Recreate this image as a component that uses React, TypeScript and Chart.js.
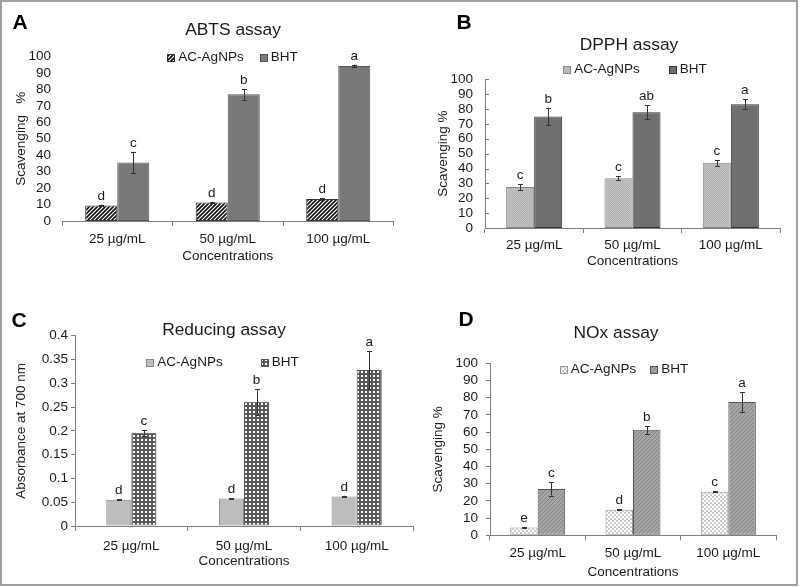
import React, { useEffect, useRef } from "react";
import { Chart, registerables } from "chart.js";
Chart.register(...registerables);

const FONT = '"Liberation Sans", Arial, Helvetica, sans-serif';

const categories = ["25 µg/mL", "50 µg/mL", "100 µg/mL"];
const seriesNames = ["AC-AgNPs", "BHT"];
const xAxisTitle = "Concentrations";

// A: ABTS assay
const abtsAC = [9.4, 11.2, 13.3];
const abtsACErr = [0.5, 0.5, 0.4];
const abtsBHT = [35.5, 77.0, 94.3];
const abtsBHTErr = [6.6, 3.2, 0.8];
const abtsACSig = ["d", "d", "d"];
const abtsBHTSig = ["c", "b", "a"];

// B: DPPH assay
const dpphAC = [27.5, 33.5, 43.8];
const dpphACErr = [2.0, 1.5, 2.0];
const dpphBHT = [75.0, 77.8, 83.3];
const dpphBHTErr = [5.8, 4.8, 3.3];
const dpphACSig = ["c", "c", "c"];
const dpphBHTSig = ["b", "ab", "a"];

// C: Reducing assay
const redAC = [0.055, 0.058, 0.062];
const redACErr = [0.001, 0.001, 0.0015];
const redBHT = [0.196, 0.261, 0.328];
const redBHTErr = [0.006, 0.027, 0.04];
const redACSig = ["d", "d", "d"];
const redBHTSig = ["c", "b", "a"];

// D: NOx assay
const noxAC = [4.6, 14.8, 25.3];
const noxACErr = [0.4, 0.3, 0.4];
const noxBHT = [26.9, 61.3, 77.5];
const noxBHTErr = [3.8, 2.3, 5.8];
const noxACSig = ["e", "d", "c"];
const noxBHTSig = ["c", "b", "a"];

const pctTickValues = [0, 10, 20, 30, 40, 50, 60, 70, 80, 90, 100];
const pctTickLabels = ["0", "10", "20", "30", "40", "50", "60", "70", "80", "90", "100"];
const absTickValues = [0, 0.05, 0.1, 0.15, 0.2, 0.25, 0.3, 0.35, 0.4];
const absTickLabels = ["0", "0.05", "0.1", "0.15", "0.2", "0.25", "0.3", "0.35", "0.4"];

const TICK_FONT = 13.5;
const LINE_H = TICK_FONT * 1.2;
const AXIS_COLOR = "#7f7f7f";
const TEXT_COLOR = "#1a1a1a";

function makePattern(size: number, draw: (g: CanvasRenderingContext2D) => void) {
  const c = document.createElement("canvas");
  c.width = size;
  c.height = size;
  const g = c.getContext("2d")!;
  draw(g);
  return g.createPattern(c, "repeat");
}

function buildPanels() {
  const hatch = makePattern(4, (g) => {
    g.fillStyle = "#fff";
    g.fillRect(0, 0, 4, 4);
    g.strokeStyle = "#111";
    g.lineWidth = 1.6;
    g.beginPath();
    g.moveTo(-1, 5); g.lineTo(5, -1);
    g.moveTo(-1, 1); g.lineTo(1, -1);
    g.moveTo(3, 5); g.lineTo(5, 3);
    g.stroke();
  });
  const stipple = (a: string, b: string) =>
    makePattern(2, (g) => {
      g.fillStyle = a; g.fillRect(0, 0, 2, 2);
      g.fillStyle = b; g.fillRect(0, 0, 1, 1); g.fillRect(1, 1, 1, 1);
    });
  const mesh = makePattern(4, (g) => {
    g.fillStyle = "#585858"; g.fillRect(0, 0, 4, 4);
    g.fillStyle = "#ffffff"; g.fillRect(1, 1, 2, 2);
  });
  const lightChecker = makePattern(4, (g) => {
    g.fillStyle = "#ffffff"; g.fillRect(0, 0, 4, 4);
    g.fillStyle = "#cdcdcd"; g.fillRect(0, 0, 2, 2); g.fillRect(2, 2, 2, 2);
  });
  const diag = makePattern(4, (g) => {
    g.fillStyle = "#a4a4a4"; g.fillRect(0, 0, 4, 4);
    g.fillStyle = "#868686";
    for (let i = 0; i < 4; i++) g.fillRect(i, 3 - i, 1, 1);
  });

  return [
    {
      box: { left: 4, top: 4, width: 394, height: 285 },
      area: { l: 62, r: 393.5, t: 56.5, b: 221 },
      ac: abtsAC, acErr: abtsACErr, bht: abtsBHT, bhtErr: abtsBHTErr,
      acSig: abtsACSig, bhtSig: abtsBHTSig,
      acFill: hatch, acBorder: "#333", bhtFill: stipple("#737373", "#7e7e7e"), bhtBorder: "#555",
      catPct: 0.58,
      yMax: 100, tickValues: pctTickValues, tickLabels: pctTickLabels,
      yTitle: "Scavenging   %", yTitleX: 21, yLabelRight: 51, yTicks: "none", yBorder: false,
      xTickY: 239, xTitleY: 256,
      letter: "A", letterPos: [20, 23], title: "ABTS assay", titlePos: [233, 30],
      legendPos: [232.5, 57], legendGap: 16,
    },
    {
      box: { left: 402, top: 4, width: 394, height: 285 },
      area: { l: 485, r: 780, t: 79.3, b: 228 },
      ac: dpphAC, acErr: dpphACErr, bht: dpphBHT, bhtErr: dpphBHTErr,
      acSig: dpphACSig, bhtSig: dpphBHTSig,
      acFill: stipple("#b0b0b0", "#c4c4c4"), acBorder: "#888", bhtFill: stipple("#6a6a6a", "#767676"), bhtBorder: "#333",
      catPct: 0.57,
      yMax: 100, tickValues: pctTickValues, tickLabels: pctTickLabels,
      yTitle: "Scavenging %", yTitleX: 443, yLabelRight: 473, yTicks: "in", yBorder: true,
      xTickY: 245, xTitleY: 261,
      letter: "B", letterPos: [464, 23], title: "DPPH assay", titlePos: [629, 45],
      legendPos: [635, 69], legendGap: 29,
    },
    {
      box: { left: 4, top: 290, width: 420, height: 292 },
      area: { l: 75, r: 413, t: 335.7, b: 526 },
      ac: redAC, acErr: redACErr, bht: redBHT, bhtErr: redBHTErr,
      acSig: redACSig, bhtSig: redBHTSig,
      acFill: "#bdbdbd", acBorder: "#888", bhtFill: mesh, bhtBorder: "#555",
      catPct: 0.445,
      yMax: 0.4, tickValues: absTickValues, tickLabels: absTickLabels,
      yTitle: "Absorbance at 700 nm", yTitleX: 21, yLabelRight: 68, yTicks: "out", yBorder: true,
      xTickY: 546, xTitleY: 561,
      letter: "C", letterPos: [19, 321.5], title: "Reducing assay", titlePos: [224, 330],
      legendPos: [222.5, 362], legendGap: 38,
    },
    {
      box: { left: 402, top: 290, width: 394, height: 292 },
      area: { l: 490, r: 776, t: 363.3, b: 535.3 },
      ac: noxAC, acErr: noxACErr, bht: noxBHT, bhtErr: noxBHTErr,
      acSig: noxACSig, bhtSig: noxBHTSig,
      acFill: lightChecker, acBorder: "#999", bhtFill: diag, bhtBorder: "#555",
      catPct: 0.577,
      yMax: 100, tickValues: pctTickValues, tickLabels: pctTickLabels,
      yTitle: "Scavenging %", yTitleX: 438, yLabelRight: 478, yTicks: "out", yBorder: true,
      xTickY: 553, xTitleY: 572,
      letter: "D", letterPos: [466, 320], title: "NOx assay", titlePos: [616, 333],
      legendPos: [624, 369], legendGap: 14,
    },
  ];
}

function decorPlugin(p: any) {
  const ox = p.box.left;
  const oy = p.box.top;
  return {
    id: "panelDecor",
    afterDatasetsDraw(chart: any) {
      const ctx: CanvasRenderingContext2D = chart.ctx;
      const ys = chart.scales.y;
      const errs = [p.acErr, p.bhtErr];
      const sigs = [p.acSig, p.bhtSig];
      ctx.save();
      chart.data.datasets.forEach((ds: any, i: number) => {
        const meta = chart.getDatasetMeta(i);
        meta.data.forEach((bar: any, j: number) => {
          const v = ds.data[j];
          const e = errs[i][j];
          const top = ys.getPixelForValue(v + e);
          const bot = ys.getPixelForValue(v - e);
          const x = Math.round(bar.x) + 0.5;
          ctx.strokeStyle = "#333";
          ctx.lineWidth = 1;
          ctx.beginPath();
          ctx.moveTo(x, top);
          ctx.lineTo(x, bot);
          ctx.moveTo(x - 2.5, Math.round(top) + 0.5);
          ctx.lineTo(x + 2.5, Math.round(top) + 0.5);
          ctx.moveTo(x - 2.5, Math.round(bot) + 0.5);
          ctx.lineTo(x + 2.5, Math.round(bot) + 0.5);
          ctx.stroke();
          ctx.fillStyle = TEXT_COLOR;
          ctx.font = `${TICK_FONT}px ${FONT}`;
          ctx.textAlign = "center";
          ctx.textBaseline = "alphabetic";
          ctx.fillText(sigs[i][j], bar.x, Math.min(top, bar.y) - 5);
        });
      });
      ctx.restore();
    },
    afterDraw(chart: any) {
      const ctx: CanvasRenderingContext2D = chart.ctx;
      ctx.save();
      if (p.yTicks === "in") {
        const ys = chart.scales.y;
        const l = chart.chartArea.left;
        ctx.strokeStyle = AXIS_COLOR;
        ctx.lineWidth = 1;
        ctx.beginPath();
        ys.ticks.forEach((t: any) => {
          const py = Math.round(ys.getPixelForValue(t.value)) + 0.5;
          ctx.moveTo(l, py);
          ctx.lineTo(l + 4, py);
        });
        ctx.stroke();
      }
      // panel letter
      ctx.fillStyle = "#000";
      ctx.textAlign = "center";
      ctx.textBaseline = "middle";
      ctx.font = `bold 21px ${FONT}`;
      ctx.fillText(p.letter, p.letterPos[0] - ox, p.letterPos[1] - oy);
      // title
      ctx.fillStyle = TEXT_COLOR;
      ctx.font = `17.4px ${FONT}`;
      ctx.fillText(p.title, p.titlePos[0] - ox, p.titlePos[1] - oy);
      // legend
      ctx.font = `${TICK_FONT}px ${FONT}`;
      const sw = 7;
      const sgap = 4;
      const items = chart.data.datasets.map((ds: any) => ({
        ds,
        w: sw + sgap + ctx.measureText(ds.label).width,
      }));
      const total = items.reduce((s: number, it: any) => s + it.w, 0) + p.legendGap * (items.length - 1);
      let x = p.legendPos[0] - ox - total / 2;
      const ly = p.legendPos[1] - oy;
      items.forEach((it: any) => {
        const sx = Math.round(x) + 0.5;
        const sy = Math.round(ly - sw / 2) + 0.5;
        ctx.fillStyle = it.ds.backgroundColor;
        ctx.fillRect(sx, sy, sw, sw);
        ctx.strokeStyle = it.ds.borderColor;
        ctx.lineWidth = 1;
        ctx.strokeRect(sx, sy, sw, sw);
        ctx.fillStyle = TEXT_COLOR;
        ctx.textAlign = "left";
        ctx.textBaseline = "middle";
        ctx.fillText(it.ds.label, x + sw + sgap, ly);
        x += it.w + p.legendGap;
      });
      ctx.restore();
    },
  };
}

function createChart(canvas: HTMLCanvasElement, p: any) {
  const tickLen = 5;
  const yTickLen = 4;
  const pad = {
    left: 0,
    top: p.area.t - p.box.top,
    right: p.box.left + p.box.width - p.area.r,
    bottom: 0,
  };
  const yWidth = p.area.l - p.box.left;
  const xHeight = p.box.top + p.box.height - p.area.b;
  const yOut = p.yTicks === "out";
  const yTickPad = p.area.l - p.yLabelRight - (yOut ? yTickLen : 0);
  const yTitlePad = p.yTitleX - p.box.left - LINE_H / 2;
  const xTickPad = p.xTickY - p.area.b - tickLen - LINE_H / 2;
  const xTitlePad = p.box.top + p.box.height - p.xTitleY - LINE_H / 2;

  return new Chart(canvas, {
    type: "bar",
    data: {
      labels: categories,
      datasets: [
        {
          label: seriesNames[0],
          data: p.ac,
          backgroundColor: p.acFill,
          borderColor: p.acBorder,
          borderWidth: 1,
          borderSkipped: false,
          categoryPercentage: p.catPct,
          barPercentage: 1,
        },
        {
          label: seriesNames[1],
          data: p.bht,
          backgroundColor: p.bhtFill,
          borderColor: p.bhtBorder,
          borderWidth: 1,
          borderSkipped: false,
          categoryPercentage: p.catPct,
          barPercentage: 1,
        },
      ],
    },
    options: {
      responsive: false,
      animation: false,
      devicePixelRatio: 1,
      events: [],
      layout: { padding: pad },
      plugins: {
        legend: { display: false },
        title: { display: false },
        tooltip: { enabled: false },
      },
      scales: {
        x: {
          type: "category",
          offset: true,
          border: { display: true, color: AXIS_COLOR, width: 1 },
          grid: {
            display: true,
            offset: true,
            drawOnChartArea: false,
            drawTicks: true,
            tickLength: tickLen,
            color: AXIS_COLOR,
          },
          ticks: {
            color: TEXT_COLOR,
            font: { family: FONT, size: TICK_FONT },
            padding: xTickPad,
            maxRotation: 0,
            autoSkip: false,
          },
          title: {
            display: true,
            text: xAxisTitle,
            color: TEXT_COLOR,
            font: { family: FONT, size: TICK_FONT },
            padding: { top: 0, bottom: xTitlePad },
          },
          afterFit: (s: any) => {
            s.height = xHeight;
          },
        },
        y: {
          type: "linear",
          min: 0,
          max: p.yMax,
          border: { display: p.yBorder, color: AXIS_COLOR, width: 1 },
          grid: yOut
            ? { display: true, drawOnChartArea: false, drawTicks: true, tickLength: yTickLen, color: AXIS_COLOR }
            : { display: false, drawTicks: false },
          afterBuildTicks: (s: any) => {
            s.ticks = p.tickValues.map((v: number) => ({ value: v }));
          },
          ticks: {
            color: TEXT_COLOR,
            font: { family: FONT, size: TICK_FONT },
            padding: yTickPad,
            autoSkip: false,
            callback: (_v: any, i: number) => p.tickLabels[i],
          },
          title: {
            display: true,
            text: p.yTitle,
            color: TEXT_COLOR,
            font: { family: FONT, size: TICK_FONT },
            padding: { top: yTitlePad, bottom: 0 },
          },
          afterFit: (s: any) => {
            s.width = yWidth;
          },
        },
      },
    },
    plugins: [decorPlugin(p)],
  } as any);
}

export default function App() {
  const refs = [
    useRef<HTMLCanvasElement>(null),
    useRef<HTMLCanvasElement>(null),
    useRef<HTMLCanvasElement>(null),
    useRef<HTMLCanvasElement>(null),
  ];
  const boxes = [
    { left: 4, top: 4, width: 394, height: 285 },
    { left: 402, top: 4, width: 394, height: 285 },
    { left: 4, top: 290, width: 420, height: 292 },
    { left: 402, top: 290, width: 394, height: 292 },
  ];

  useEffect(() => {
    const panels = buildPanels();
    const charts = panels.map((p, i) => createChart(refs[i].current!, p));
    return () => charts.forEach((c) => c.destroy());
  }, []);

  return (
    <div
      style={{
        position: "absolute",
        left: 0,
        top: 0,
        width: 800,
        height: 587,
        background: "#fff",
        overflow: "hidden",
      }}
    >
      <div
        style={{
          position: "absolute",
          left: 0,
          top: 0,
          width: 798,
          height: 586,
          boxSizing: "border-box",
          border: "2px solid #a0a0a0",
        }}
      />
      {boxes.map((b, i) => (
        <canvas
          key={i}
          ref={refs[i]}
          width={b.width}
          height={b.height}
          style={{
            position: "absolute",
            left: b.left,
            top: b.top,
            width: b.width,
            height: b.height,
          }}
        />
      ))}
    </div>
  );
}
